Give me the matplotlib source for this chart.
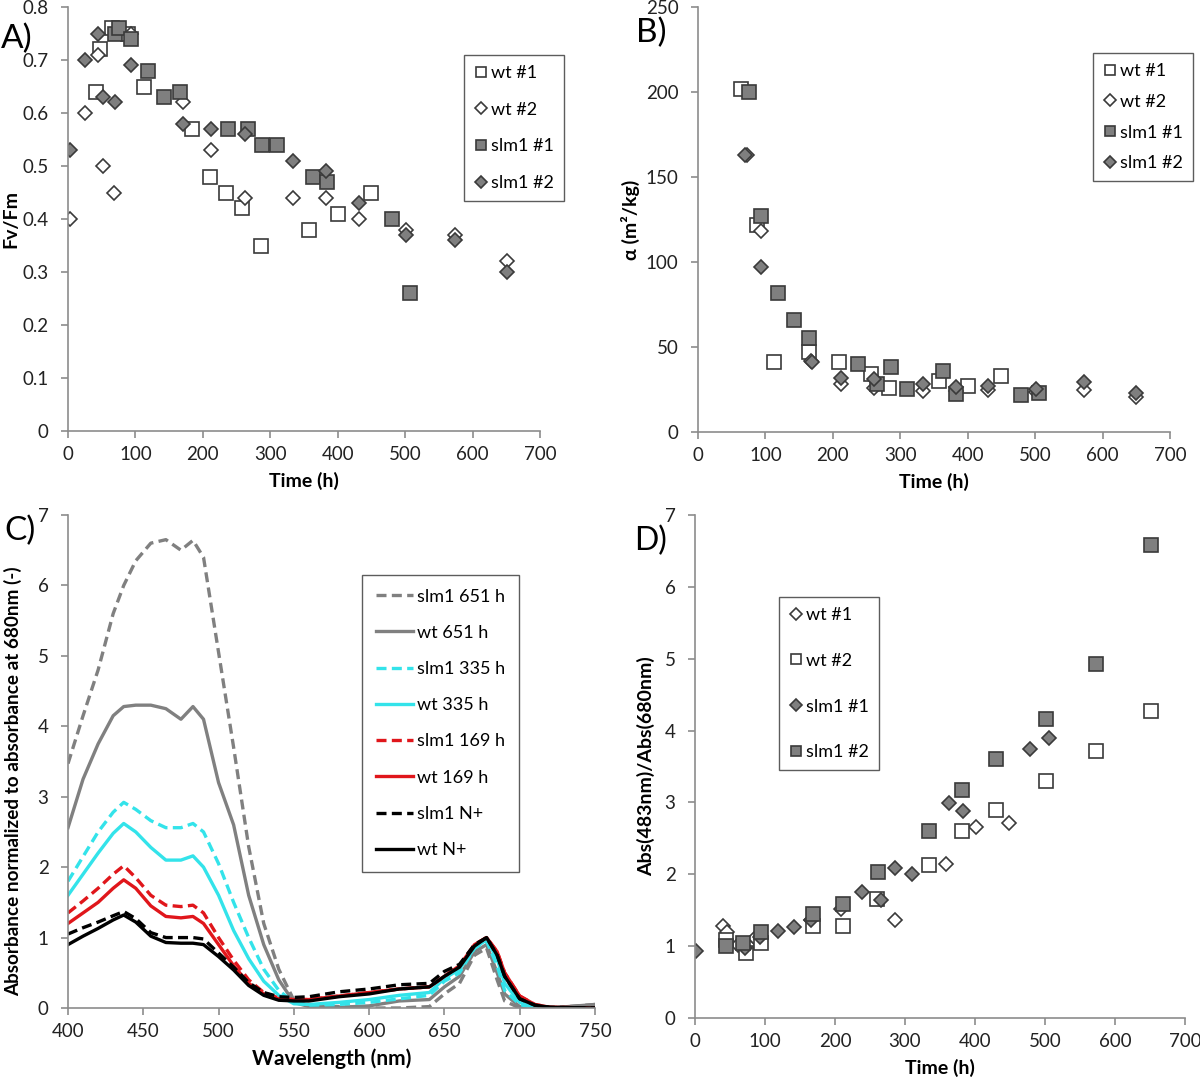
import matplotlib.pyplot as plt
from matplotlib.ticker import FormatStrFormatter

plt.rcParams['font.family'] = ['Lato', 'DejaVu Sans']

# ---- panel A: Fv/Fm ----
a_wt1_t = [42, 47, 65, 89, 113, 184, 210, 234, 258, 286, 358, 401, 450]
a_wt1_v = [0.64, 0.72, 0.76, 0.75, 0.65, 0.57, 0.48, 0.45, 0.42, 0.35, 0.38, 0.41, 0.45]
a_wt2_t = [3, 25, 44, 52, 68, 94, 170, 212, 262, 334, 383, 431, 502, 574, 651]
a_wt2_v = [0.40, 0.60, 0.71, 0.50, 0.45, 0.75, 0.62, 0.53, 0.44, 0.44, 0.44, 0.40, 0.38, 0.37, 0.32]
a_slm1_t = [70, 76, 94, 119, 142, 166, 238, 267, 287, 310, 364, 384, 480, 507]
a_slm1_v = [0.75, 0.76, 0.74, 0.68, 0.63, 0.64, 0.57, 0.57, 0.54, 0.54, 0.48, 0.47, 0.40, 0.26]
a_slm2_t = [3, 25, 44, 52, 70, 94, 170, 212, 262, 334, 383, 431, 502, 574, 651]
a_slm2_v = [0.53, 0.70, 0.75, 0.63, 0.62, 0.69, 0.58, 0.57, 0.56, 0.51, 0.49, 0.43, 0.37, 0.36, 0.30]

# ---- panel B: alpha ----
b_wt1_t = [64, 87, 113, 165, 209, 256, 284, 357, 401, 449]
b_wt1_v = [202, 122, 41, 47, 41, 34, 26, 30, 27, 33]
b_wt2_t = [72, 94, 167, 212, 261, 333, 383, 430, 501, 573, 650]
b_wt2_v = [163, 118, 42, 28, 26, 24, 24, 24.5, 23.5, 24.5, 20.5]
b_slm1_t = [75, 94, 119, 142, 165, 238, 266, 286, 310, 363, 383, 479, 506]
b_slm1_v = [200, 127, 82, 66, 55.5, 40, 28, 38, 25.5, 36, 22.5, 21.5, 23]
b_slm2_t = [69, 94, 169, 212, 261, 333, 382, 430, 501, 573, 650]
b_slm2_v = [163, 97, 41, 32, 31, 28.5, 26.5, 27, 25.5, 29.5, 23]

# ---- panel C: spectra ----
wl = [400, 410, 420, 430, 437, 445, 455, 465, 475, 483, 490, 500, 510, 520, 530, 540,
      550, 560, 580, 600, 620, 640, 650, 660, 670, 678, 685, 690, 700, 710, 720, 750]
wt_np = [0.90, 1.02, 1.13, 1.25, 1.32, 1.22, 1.02, 0.93, 0.92, 0.92, 0.90, 0.73, 0.54, 0.32,
         0.18, 0.11, 0.10, 0.10, 0.16, 0.20, 0.27, 0.30, 0.45, 0.58, 0.88, 1.00, 0.75, 0.45,
         0.13, 0.04, 0.01, 0.00]
slm_np = [1.05, 1.14, 1.22, 1.31, 1.37, 1.27, 1.07, 1.00, 1.00, 1.00, 0.98, 0.78, 0.58, 0.36,
          0.22, 0.16, 0.15, 0.16, 0.23, 0.27, 0.33, 0.35, 0.52, 0.62, 0.90, 1.00, 0.75, 0.45,
          0.13, 0.04, 0.01, 0.00]
wt_169 = [1.20, 1.35, 1.50, 1.70, 1.82, 1.70, 1.45, 1.30, 1.28, 1.30, 1.20, 0.90, 0.60, 0.35,
          0.20, 0.13, 0.12, 0.12, 0.17, 0.22, 0.27, 0.30, 0.45, 0.60, 0.90, 1.00, 0.80, 0.50,
          0.17, 0.05, 0.01, 0.00]
slm_169 = [1.35, 1.52, 1.70, 1.90, 2.02, 1.85, 1.60, 1.46, 1.44, 1.46, 1.35, 1.00, 0.68, 0.40,
           0.22, 0.14, 0.12, 0.12, 0.17, 0.22, 0.27, 0.30, 0.45, 0.60, 0.90, 1.00, 0.80, 0.50,
           0.17, 0.05, 0.01, 0.00]
wt_335 = [1.60, 1.90, 2.20, 2.48, 2.62, 2.50, 2.28, 2.10, 2.10, 2.16, 2.00, 1.60, 1.10, 0.70,
          0.38, 0.18, 0.06, 0.05, 0.08, 0.12, 0.18, 0.22, 0.42, 0.55, 0.85, 0.97, 0.70, 0.35,
          0.08, 0.00, 0.00, 0.00]
slm_335 = [1.80, 2.15, 2.50, 2.78, 2.92, 2.82, 2.66, 2.56, 2.56, 2.62, 2.50, 2.05, 1.50, 1.00,
           0.55, 0.25, 0.08, 0.04, 0.05, 0.08, 0.13, 0.18, 0.38, 0.50, 0.85, 0.95, 0.60, 0.25,
           0.05, 0.00, 0.00, 0.00]
wt_651 = [2.56, 3.25, 3.75, 4.15, 4.28, 4.30, 4.30, 4.25, 4.10, 4.28, 4.10, 3.20, 2.60, 1.60,
          0.90, 0.40, 0.08, 0.02, 0.01, 0.03, 0.10, 0.12, 0.30, 0.45, 0.80, 0.90, 0.50, 0.20,
          0.02, 0.00, 0.00, 0.05]
slm_651 = [3.47, 4.15, 4.80, 5.60, 6.00, 6.35, 6.60, 6.65, 6.50, 6.64, 6.40, 5.05, 3.70, 2.29,
           1.20, 0.55, 0.11, 0.03, 0.02, 0.00, 0.00, 0.02, 0.20, 0.35, 0.75, 0.85, 0.40, 0.10,
           0.00, 0.00, 0.00, 0.05]

# ---- panel D: Abs ratio ----
d_wt1_t = [40, 46, 62, 77, 86, 166, 209, 285, 358, 401, 449]
d_wt1_v = [1.28, 1.19, 1.01, 1.00, 1.11, 1.36, 1.52, 1.36, 2.15, 2.66, 2.72]
d_wt2_t = [44, 73, 94, 169, 212, 260, 334, 382, 430, 502, 573, 651]
d_wt2_v = [1.09, 0.91, 1.05, 1.28, 1.28, 1.65, 2.13, 2.60, 2.89, 3.30, 3.72, 4.27]
d_slm1_t = [1, 72, 93, 118, 142, 166, 239, 265, 286, 310, 363, 383, 478, 506]
d_slm1_v = [0.93, 0.98, 1.13, 1.21, 1.27, 1.36, 1.75, 1.64, 2.09, 2.01, 2.99, 2.88, 3.75, 3.90]
d_slm2_t = [44, 69, 94, 169, 212, 261, 334, 382, 430, 502, 573, 651]
d_slm2_v = [1.00, 1.04, 1.19, 1.45, 1.58, 2.03, 2.60, 3.17, 3.61, 4.16, 4.92, 6.58]

W, H = 1200, 1086
fig = plt.figure(figsize=(12, 10.86), dpi=100)

def px_axes(x0, y0, x1, y1):
    return fig.add_axes([x0 / W, 1 - y1 / H, (x1 - x0) / W, (y1 - y0) / H])

def style(ax):
    for s in ['top', 'right']:
        ax.spines[s].set_visible(False)
    for s in ['left', 'bottom']:
        ax.spines[s].set_color('#8c8c8c')
        ax.spines[s].set_linewidth(1.2)
    ax.tick_params(direction='out', color='#8c8c8c', length=5, width=1.2,
                   labelsize=13.5, labelcolor='#222222')
    ax.tick_params(axis='x', pad=6)
    ax.tick_params(axis='y', pad=9)

ec = '#3a3a3a'
sq_open = dict(marker='s', ls='none', ms=9.5, mfc='white', mec=ec, mew=1.2)
sq_fill = dict(marker='s', ls='none', ms=9.5, mfc='#7f7f7f', mec=ec, mew=1.2)
di_open = dict(marker='D', ls='none', ms=7.5, mfc='white', mec=ec, mew=1.2)
di_fill = dict(marker='D', ls='none', ms=7.5, mfc='#7f7f7f', mec=ec, mew=1.2)

leg_kw = dict(fontsize=13, frameon=True, fancybox=False, edgecolor='#333333',
              handletextpad=0.15, borderpad=0.55, handlelength=0.8, borderaxespad=0,
              markerscale=0.78)
lab_kw = dict(fontsize=14, fontweight='bold')

# A
ax = px_axes(68, 7, 540, 431)
ax.plot(a_wt1_t, a_wt1_v, label='wt #1', **sq_open)
ax.plot(a_wt2_t, a_wt2_v, label='wt #2', **di_open)
ax.plot(a_slm1_t, a_slm1_v, label='slm1 #1', **sq_fill)
ax.plot(a_slm2_t, a_slm2_v, label='slm1 #2', **di_fill)
ax.set_xlim(0, 700)
ax.set_ylim(0, 0.8)
ax.set_xticks(range(0, 701, 100))
ax.set_yticks([i / 10 for i in range(9)])
ax.yaxis.set_major_formatter(FormatStrFormatter('%g'))
style(ax)
ax.set_xlabel('Time (h)', labelpad=6, **lab_kw)
ax.set_ylabel('Fv/Fm', labelpad=2, **lab_kw)
ax.legend(loc='upper left', bbox_to_anchor=(464 / W, 1 - 55 / H),
          bbox_transform=fig.transFigure, labelspacing=1.15, **leg_kw)
fig.text(1 / W, 1 - 39 / H, 'A)', fontsize=24, va='center')

# B
ax = px_axes(698, 7, 1170, 432)
ax.plot(b_wt1_t, b_wt1_v, label='wt #1', **sq_open)
ax.plot(b_wt2_t, b_wt2_v, label='wt #2', **di_open)
ax.plot(b_slm1_t, b_slm1_v, label='slm1 #1', **sq_fill)
ax.plot(b_slm2_t, b_slm2_v, label='slm1 #2', **di_fill)
ax.set_xlim(0, 700)
ax.set_ylim(0, 250)
ax.set_xticks(range(0, 701, 100))
ax.set_yticks(range(0, 251, 50))
style(ax)
ax.set_xlabel('Time (h)', labelpad=6, **lab_kw)
ax.set_ylabel('α (m²/kg)', labelpad=4, **lab_kw)
ax.legend(loc='upper left', bbox_to_anchor=(1093 / W, 1 - 53 / H),
          bbox_transform=fig.transFigure, labelspacing=0.82, **leg_kw)
fig.text(636 / W, 1 - 33 / H, 'B)', fontsize=24, va='center')

# C
ax = px_axes(68, 515, 595, 1008)
gray, cyan, red = '#808080', '#33e3ea', '#e0161b'
dash = (0, (3, 1.6))
lw = 2.4
ax.plot(wl, slm_651, color=gray, ls=dash, lw=lw, label='slm1 651 h')
ax.plot(wl, wt_651, color=gray, ls='-', lw=lw, label='wt 651 h')
ax.plot(wl, slm_335, color=cyan, ls=dash, lw=lw, label='slm1 335 h')
ax.plot(wl, wt_335, color=cyan, ls='-', lw=lw, label='wt 335 h')
ax.plot(wl, slm_169, color=red, ls=dash, lw=lw, label='slm1 169 h')
ax.plot(wl, wt_169, color=red, ls='-', lw=lw, label='wt 169 h')
ax.plot(wl, slm_np, color='black', ls=dash, lw=lw, label='slm1 N+')
ax.plot(wl, wt_np, color='black', ls='-', lw=lw, label='wt N+')
ax.set_xlim(400, 750)
ax.set_ylim(0, 7)
ax.set_xticks(range(400, 751, 50))
ax.set_yticks(range(0, 8))
style(ax)
ax.set_xlabel('Wavelength (nm)', labelpad=6, fontsize=15, fontweight='bold')
ax.set_ylabel('Absorbance normalized to absorbance at 680nm (-)', fontsize=13.6,
              fontweight='bold')
ax.yaxis.set_label_coords(-46 / 527, 0.46)
kw = dict(leg_kw)
kw.update(handlelength=2.1, handletextpad=0.2, borderpad=0.75, markerscale=1)
ax.legend(loc='upper left', bbox_to_anchor=(362 / W, 1 - 575 / H),
          bbox_transform=fig.transFigure, labelspacing=1.12, **kw)
fig.text(4 / W, 1 - 531 / H, 'C)', fontsize=24, va='center')

# D
ax = px_axes(695, 515, 1185, 1018)
ax.plot(d_wt1_t, d_wt1_v, label='wt #1', **di_open)
ax.plot(d_wt2_t, d_wt2_v, label='wt #2', **sq_open)
ax.plot(d_slm1_t, d_slm1_v, label='slm1 #1', **di_fill)
ax.plot(d_slm2_t, d_slm2_v, label='slm1 #2', **sq_fill)
ax.set_xlim(0, 700)
ax.set_ylim(0, 7)
ax.set_xticks(range(0, 701, 100))
ax.set_yticks(range(0, 8))
style(ax)
ax.set_xlabel('Time (h)', labelpad=6, **lab_kw)
ax.set_ylabel('Abs(483nm)/Abs(680nm)', labelpad=7, **lab_kw)
ax.legend(loc='upper left', bbox_to_anchor=(779 / W, 1 - 597 / H),
          bbox_transform=fig.transFigure, labelspacing=1.65, **leg_kw)
fig.text(634 / W, 1 - 541 / H, 'D)', fontsize=23, va='center')

fig.savefig('out.png', dpi=100)
